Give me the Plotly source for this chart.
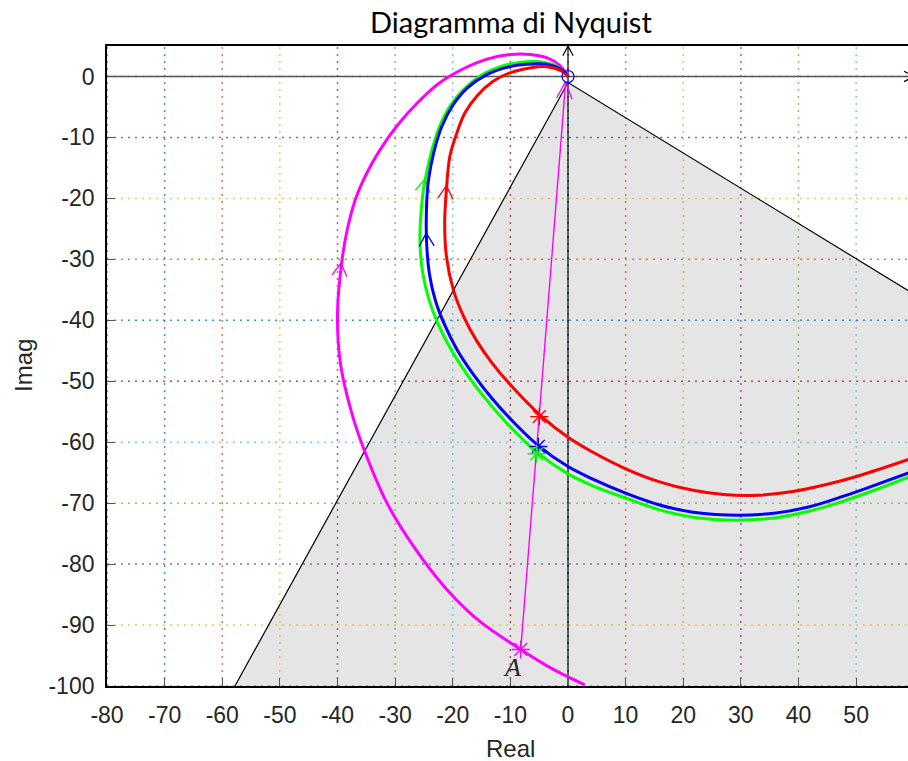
import numpy as np
import plotly.graph_objects as go

# ---------------------------------------------------------------- axes
X_RANGE = [-80, 59]
Y_RANGE = [-100, 5]
x_ticks = list(range(-80, 51, 10))
y_ticks = list(range(-100, 1, 10))
x_labels = [str(v) for v in x_ticks]
y_labels = [str(v) for v in y_ticks]

# ---------------------------------------------------------------- Nyquist curves (ordered by increasing omega)
red_re = [59.2, 50.5, 45.0, 39.0, 33.0, 27.0, 21.7, 15.9, 10.1, 4.4, 0.0, -4.9, -9.6, -13.1,
          -15.9, -18.1, -19.9, -21.1, -21.4, -21.1, -20.5, -19.3, -17.9, -15.8, -13.0, -10.1,
          -6.6, -3.7, -1.1, 0.0]
red_im = [-62.8, -65.5, -66.9, -68.1, -68.7, -68.6, -67.9, -66.5, -64.4, -61.7, -59.2, -55.5,
          -51.0, -47.1, -43.3, -39.4, -35.0, -29.5, -24.0, -18.6, -13.1, -9.3, -6.0, -3.2, -0.8,
          0.6, 1.4, 1.6, 0.9, 0.0]

blue_re = [59.2, 53.4, 47.7, 41.9, 36.1, 29.7, 21.7, 15.9, 10.1, 4.4, 0.0, -5.1, -9.35, -13.1,
           -16.4, -19.2, -21.5, -23.0, -24.05, -24.55, -24.5, -24.2, -23.3, -21.9, -19.9, -17.5,
           -14.1, -10.6, -7.2, -3.7, -0.8, 0.0]
blue_im = [-65.0, -67.0, -68.9, -70.6, -71.6, -72.0, -71.5, -70.3, -68.4, -66.1, -64.0, -60.6,
           -56.8, -52.9, -48.9, -44.9, -40.55, -36.8, -32.4, -27.0, -20.2, -16.9, -12.5, -8.2,
           -4.6, -1.9, 0.3, 1.5, 2.0, 2.0, 0.9, 0.0]

green_re = [59.2, 53.4, 47.7, 41.9, 36.1, 29.2, 21.7, 15.9, 10.1, 4.4, 0.0, -5.6, -10.7, -14.3,
            -17.6, -20.3, -22.6, -24.1, -25.2, -25.7, -25.3, -24.9, -23.9, -22.5, -20.5, -18.1,
            -15.3, -11.85, -8.45, -4.95, -2.1, 0.0]
green_im = [-65.7, -67.8, -69.7, -71.3, -72.4, -72.8, -72.3, -71.1, -69.2, -67.2, -65.2, -61.5,
            -56.8, -52.9, -48.8, -44.8, -40.5, -36.7, -32.3, -26.9, -20.2, -17.5, -13.1, -8.7,
            -4.9, -2.1, 0.05, 1.55, 2.3, 2.42, 1.75, 0.0]

magenta_re = [2.9, 0.0, -2.7, -8.2, -15.3, -21.0, -26.8, -31.4, -35.4, -37.6, -39.5, -40.0,
              -39.2, -38.3, -36.9, -35.0, -32.6, -29.6, -26.2, -22.5, -18.5, -14.2, -10.0, -6.5,
              -3.5, -1.4, 0.0]
magenta_im = [-99.8, -98.5, -97.2, -94.0, -89.4, -84.2, -77.1, -70.0, -61.2, -55.0, -47.0, -38.8,
              -30.0, -25.1, -20.2, -16.0, -12.0, -8.0, -4.4, -1.2, 1.1, 2.8, 3.6, 3.6, 3.0, 1.8,
              0.0]

# direction arrows along each curve (tip positions)
red_arrow = (-21.1, -17.9)
blue_arrow = (-24.6, -25.7)
green_arrow = (-24.8, -16.8)
magenta_arrow = (-39.4, -30.6)

# marked points on each curve
red_star = (-4.98, -55.8)
blue_star = (-5.15, -60.7)
green_star = (-5.44, -61.9)
point_A = (-8.2, -94.0)
vector_tip = (-0.4, -0.8)

# sector of admissible points
sector_x = [-57.8, 0.0, 59.0]
sector_y = [-100.0, -1.0, -35.1]

# ---------------------------------------------------------------- styles
W, H = 908, 761
M_L, M_R, M_T, M_B = 107, 0, 46, 75
PX_X = (W - M_L - M_R) / (X_RANGE[1] - X_RANGE[0])
PX_Y = (H - M_T - M_B) / (Y_RANGE[1] - Y_RANGE[0])

CYCLE = ["rgba(0,114,189,0.75)", "rgba(217,83,25,0.75)", "rgba(237,177,32,0.75)",
         "rgba(126,47,142,0.75)", "rgba(119,172,48,0.75)", "rgba(77,190,238,0.75)",
         "rgba(162,20,47,0.75)"]
x_grid_col = [6, 0, 1, 2, 3, 4, 5, 6, 0, 1, 2, 3, 4, 5]
y_grid_col = [1, 2, 3, 4, 5, 6, 0, 1, 2, 3, 4]

RED, BLUE, GREEN, MAG = "#ff0000", "#0000ff", "#00ff00", "#ff00ff"
TICK_FONT = dict(family="Liberation Sans, Arial, sans-serif", size=23, color="#262626")


def vhead(tip, direction, length, half_angle):
    """Open 'V' arrow head at tip, pointing along direction (given in pixels, y up)."""
    d = np.asarray(direction, float)
    d = d / np.hypot(*d)
    back = -d
    xs, ys = [], []
    for s in (1, -1):
        a = np.radians(half_angle) * s
        r = np.array([back[0] * np.cos(a) - back[1] * np.sin(a),
                      back[0] * np.sin(a) + back[1] * np.cos(a)])
        xs.append(tip[0] + length * r[0] / PX_X)
        ys.append(tip[1] + length * r[1] / PX_Y)
    return [xs[0], tip[0], xs[1]], [ys[0], tip[1], ys[1]]


def curve_dir(xs, ys, tip):
    px = np.asarray(xs) * PX_X
    py = np.asarray(ys) * PX_Y
    i = int(np.argmin(np.hypot(px - tip[0] * PX_X, py - tip[1] * PX_Y)))
    i = min(max(i, 1), len(px) - 2)
    return (px[i + 1] - px[i - 1], py[i + 1] - py[i - 1])


fig = go.Figure()

# shaded sector
fig.add_trace(go.Scatter(
    x=sector_x + [X_RANGE[1], sector_x[0]],
    y=sector_y + [Y_RANGE[0], sector_y[0]],
    mode="lines", fill="toself", fillcolor="#e5e5e5", line=dict(width=0),
    hoverinfo="skip"))

# coloured dotted grid
for xv, c in zip(x_ticks, x_grid_col):
    fig.add_trace(go.Scatter(x=[xv, xv], y=Y_RANGE, mode="lines", hoverinfo="skip",
                             line=dict(color=CYCLE[c], width=1.5, dash="2px,5px")))
for yv, c in zip(y_ticks, y_grid_col):
    fig.add_trace(go.Scatter(x=[X_RANGE[0], X_RANGE[1] + 1], y=[yv, yv], mode="lines",
                             hoverinfo="skip",
                             line=dict(color=CYCLE[c], width=1.5, dash="2px,5px")))

# sector edges
fig.add_trace(go.Scatter(x=sector_x, y=sector_y, mode="lines",
                         line=dict(color="black", width=1.2), hoverinfo="skip"))

# coordinate axes through the origin with arrow heads
fig.add_trace(go.Scatter(x=[X_RANGE[0], X_RANGE[1] + 1], y=[0, 0], mode="lines",
                         line=dict(color="#555555", width=1.6), hoverinfo="skip"))
ax, ay = vhead((X_RANGE[1] + 1, 0), (1, 0), 11, 28)
fig.add_trace(go.Scatter(x=ax, y=ay, mode="lines", line=dict(color="black", width=1.2),
                         hoverinfo="skip"))
fig.add_trace(go.Scatter(x=[0, 0], y=Y_RANGE, mode="lines",
                         line=dict(color="black", width=1.2), hoverinfo="skip"))
ax, ay = vhead((0, Y_RANGE[1]), (0, 1), 11, 28)
fig.add_trace(go.Scatter(x=ax, y=ay, mode="lines", line=dict(color="black", width=1.2),
                         hoverinfo="skip"))

# Nyquist curves
curves = [(magenta_re, magenta_im, MAG, magenta_arrow),
          (green_re, green_im, GREEN, green_arrow),
          (blue_re, blue_im, BLUE, blue_arrow),
          (red_re, red_im, RED, red_arrow)]
for xs, ys, col, tip in curves:
    fig.add_trace(go.Scatter(x=xs, y=ys, mode="lines", line=dict(color=col, width=3,
                             shape="spline", smoothing=1.0), hoverinfo="skip"))
    hx, hy = vhead(tip, curve_dir(xs, ys, tip), 15, 30)
    fig.add_trace(go.Scatter(x=hx, y=hy, mode="lines", line=dict(color=col, width=1.3),
                             hoverinfo="skip"))

# vector from A to the origin
fig.add_trace(go.Scatter(x=[point_A[0], vector_tip[0]], y=[point_A[1], vector_tip[1]],
                         mode="lines", line=dict(color=MAG, width=1.4), hoverinfo="skip"))
vdir = ((vector_tip[0] - point_A[0]) * PX_X, (vector_tip[1] - point_A[1]) * PX_Y)
hx, hy = vhead(vector_tip, vdir, 19, 24)
fig.add_trace(go.Scatter(x=hx, y=hy, mode="lines", line=dict(color=MAG, width=1.3),
                         hoverinfo="skip"))

# marked points
for p, col in [(red_star, RED), (blue_star, BLUE), (green_star, GREEN), (point_A, MAG)]:
    fig.add_trace(go.Scatter(x=[p[0]], y=[p[1]], mode="markers", hoverinfo="skip",
                             marker=dict(symbol="asterisk-open", size=15, color=col,
                                         line=dict(color=col, width=1.4))))
fig.add_trace(go.Scatter(x=[0], y=[0], mode="markers", hoverinfo="skip",
                         marker=dict(symbol="circle-open", size=12, color=BLUE,
                                     line=dict(color=BLUE, width=1.2))))

fig.add_annotation(x=point_A[0] - 1.6, y=point_A[1] - 3.0, text="<i>A</i>", showarrow=False,
                   font=dict(family="Liberation Serif, serif", size=26, color="#262626"))

# titles
fig.add_annotation(xref="paper", yref="paper", x=(511 - M_L) / (W - M_L - M_R),
                   y=1 + (M_T - 22) / (H - M_T - M_B), text="Diagramma di Nyquist",
                   showarrow=False, xanchor="center", yanchor="middle",
                   font=dict(family="Lato, sans-serif", size=29, color="black"))
fig.add_annotation(xref="paper", yref="paper", x=(510 - M_L) / (W - M_L - M_R),
                   y=-(748 - (H - M_B)) / (H - M_T - M_B), text="Real", showarrow=False,
                   xanchor="center", yanchor="middle", font=TICK_FONT | dict(size=24))
fig.add_annotation(xref="paper", yref="paper", x=(23 - M_L) / (W - M_L - M_R), y=0.5,
                   text="Imag", showarrow=False, textangle=-90, xanchor="center",
                   yanchor="middle", font=TICK_FONT | dict(size=24))

fig.update_layout(
    width=W, height=H, margin=dict(l=M_L, r=M_R, t=M_T, b=M_B),
    plot_bgcolor="white", paper_bgcolor="white", showlegend=False,
    xaxis=dict(range=X_RANGE, tickvals=x_ticks, ticktext=x_labels, showgrid=False,
               zeroline=False, showline=True, linecolor="black", linewidth=1.8, mirror=True,
               ticks="inside", ticklen=8, tickwidth=1.3, tickcolor="#555555",
               tickfont=TICK_FONT, ticklabelstandoff=7),
    yaxis=dict(range=Y_RANGE, tickvals=y_ticks, ticktext=y_labels, showgrid=False,
               zeroline=False, showline=True, linecolor="black", linewidth=1.8,
               ticks="inside", ticklen=8, tickwidth=1.3, tickcolor="#555555",
               tickfont=TICK_FONT, ticklabelstandoff=6),
)

fig.write_html("out.html")
